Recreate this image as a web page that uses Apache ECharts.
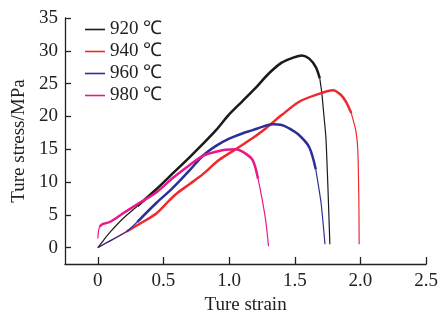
<!DOCTYPE html>
<html>
<head>
<meta charset="utf-8">
<script src="https://cdn.jsdelivr.net/npm/echarts@6/dist/echarts.min.js"></script>
<style>html,body{margin:0;padding:0;background:#fff}#c{width:441px;height:320px}</style>
</head>
<body>
<div id="c"></div>
<script>
// ---- data ----
var names = ['920 ℃', '940 ℃', '960 ℃', '980 ℃'];
var xTicks = [0, 0.5, 1.0, 1.5, 2.0, 2.5];
var yTicks = [0, 5, 10, 15, 20, 25, 30, 35];

var headStrain920 = [0, 0.05, 0.1, 0.19, 0.3];
var headStress920 = [0, 1.3, 2.5, 4.4, 6.3];
var strain920 = [0.3, 0.445, 0.57, 0.7, 0.8, 0.9, 1.0, 1.1, 1.2, 1.3, 1.4, 1.48, 1.555, 1.61, 1.66, 1.69];
var stress920 = [6.3, 8.9, 11.3, 13.8, 15.8, 17.9, 20.3, 22.3, 24.3, 26.5, 28.2, 28.9, 29.3, 28.8, 27.5, 25.8];
var tailStrain920 = [1.69, 1.705, 1.72, 1.737, 1.752, 1.767];
var tailStress920 = [25.8, 23.7, 20.5, 16.7, 9.3, 0.5];

var headStrain940 = [0, 0.1, 0.22];
var headStress940 = [0, 1.1, 2.45];
var strain940 = [0.22, 0.3, 0.445, 0.545, 0.61, 0.7, 0.8, 0.92, 1.05, 1.18, 1.28, 1.4, 1.53, 1.65, 1.79, 1.85, 1.89, 1.93];
var stress940 = [2.45, 3.4, 5.2, 7.2, 8.4, 9.7, 11.2, 13.3, 15.0, 16.7, 18.2, 20.2, 22.2, 23.2, 24.0, 23.3, 22.2, 20.5];
var tailStrain940 = [1.93, 1.965, 1.98, 1.988, 1.99];
var tailStress940 = [20.5, 17.8, 14.8, 6.8, 0.5];

var headStrain960 = [0, 0.1, 0.22, 0.3];
var headStress960 = [0, 1.1, 2.45, 3.9];
var strain960 = [0.3, 0.445, 0.545, 0.61, 0.7, 0.8, 0.9, 1.0, 1.1, 1.18, 1.25, 1.33, 1.4, 1.455, 1.53, 1.61, 1.66];
var stress960 = [3.9, 6.8, 8.6, 9.9, 11.8, 14.0, 15.5, 16.6, 17.4, 17.9, 18.4, 18.8, 18.7, 18.2, 17.2, 15.3, 11.9];
var tailStrain960 = [1.66, 1.70, 1.73];
var tailStress960 = [11.9, 6.8, 0.5];

var headStrain980 = [0, 0.005, 0.013];
var headStress980 = [1.4, 2.5, 3.2];
var strain980 = [0.013, 0.04, 0.09, 0.19, 0.3, 0.445, 0.57, 0.7, 0.8, 0.9, 0.97, 1.05, 1.12, 1.18, 1.22];
var stress980 = [3.2, 3.6, 3.9, 5.2, 6.6, 8.4, 10.6, 12.6, 14.0, 14.6, 14.9, 15.0, 14.4, 13.3, 10.5];
var tailStrain980 = [1.22, 1.25, 1.28, 1.30];
var tailStress980 = [10.5, 7.5, 3.9, 0.2];

var colors = ['#1a1a1a', '#ee2a2e', '#2b2f96', '#e8188a'];

function pairs(xs, ys) { return xs.map(function (x, i) { return [x, ys[i]]; }); }

var heads = [[headStrain920, headStress920], [headStrain940, headStress940], [headStrain960, headStress960], [headStrain980, headStress980]];
var mains = [[strain920, stress920], [strain940, stress940], [strain960, stress960], [strain980, stress980]];
var tails = [[tailStrain920, tailStress920], [tailStrain940, tailStress940], [tailStrain960, tailStress960], [tailStrain980, tailStress980]];

var series = [];
names.forEach(function (n, i) {
  series.push({
    name: n, type: 'line', data: pairs(heads[i][0], heads[i][1]),
    symbol: 'none', smooth: 0.2, color: colors[i],
    lineStyle: { width: 1.2, color: colors[i] }, z: 2 + i
  });
  series.push({
    name: n, type: 'line', data: pairs(mains[i][0], mains[i][1]),
    symbol: 'none', smooth: 0.3, color: colors[i],
    lineStyle: { width: 2.5, color: colors[i] }, z: 2 + i
  });
  series.push({
    name: n, type: 'line', data: pairs(tails[i][0], tails[i][1]),
    symbol: 'none', smooth: 0.2, color: colors[i],
    lineStyle: { width: 1.2, color: colors[i] }, z: 2 + i
  });
});

var font = '"Liberation Serif", "Times New Roman", serif';
var chart = echarts.init(document.getElementById('c'), null, { renderer: 'canvas' });
chart.setOption({
  animation: false,
  backgroundColor: '#fff',
  textStyle: { fontFamily: font },
  grid: { left: 65, right: 13, top: 18, bottom: 48, containLabel: false },
  legend: {
    data: names, orient: 'vertical', left: 85, top: 20, padding: 0,
    icon: 'rect', itemWidth: 20, itemHeight: 1.6, itemGap: 3,
    textStyle: { fontFamily: font, fontSize: 19, color: '#222', lineHeight: 19 }
  },
  xAxis: {
    type: 'value', min: -0.25, max: 2.5,
    name: 'Ture strain', nameLocation: 'middle', nameGap: 32,
    nameTextStyle: { fontFamily: font, fontSize: 19, color: '#222' },
    axisLine: { show: true, onZero: false, lineStyle: { color: '#222', width: 1.3 } },
    axisTick: { show: true, inside: true, length: 7, customValues: xTicks, lineStyle: { color: '#222', width: 1.3 } },
    axisLabel: { customValues: xTicks, fontFamily: font, fontSize: 19, color: '#222', margin: 8,
      formatter: function (v) { return v === 0 ? '0' : v.toFixed(1); } },
    splitLine: { show: false }
  },
  yAxis: {
    type: 'value', min: -2.5, max: 35,
    name: 'Ture stress/MPa', nameLocation: 'middle', nameGap: 35, nameRotate: 90,
    nameTextStyle: { fontFamily: font, fontSize: 19, color: '#222' },
    axisLine: { show: true, onZero: false, lineStyle: { color: '#222', width: 1.3 } },
    axisTick: { show: true, inside: true, length: 6, customValues: yTicks, lineStyle: { color: '#222', width: 1.3 } },
    axisLabel: { customValues: yTicks, fontFamily: font, fontSize: 19, color: '#222', margin: 7 },
    splitLine: { show: false }
  },
  series: series
});
</script>
</body>
</html>
